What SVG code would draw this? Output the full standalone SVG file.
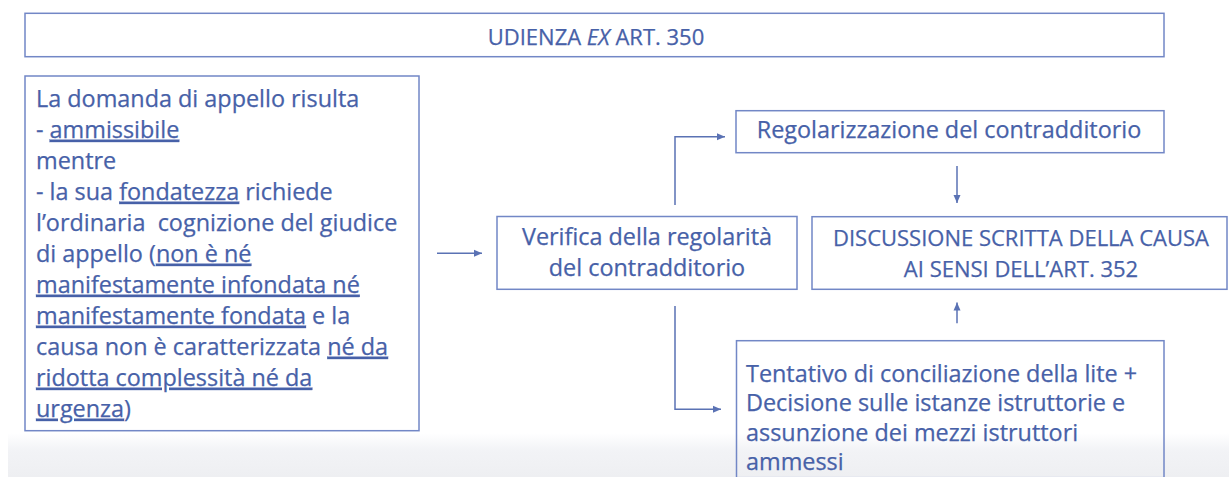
<svg xmlns="http://www.w3.org/2000/svg" width="1229" height="477" viewBox="0 0 1229 477">
<style>
  .box { fill: none; stroke: #7287c6; stroke-width: 1.5; }
  .t { font-family: "Open Sans", "Noto Sans", "Liberation Sans", sans-serif; font-size: 23.4px; fill: #4761a8; stroke: #4761a8; stroke-width: 0.25; }
  .caps { font-size: 22px; }
  .mid { text-anchor: middle; }
  .u { text-decoration: underline; }
  .conn { fill: none; stroke: #5a72b4; stroke-width: 1.5; }
</style>
<defs>
  <marker id="arr" markerUnits="userSpaceOnUse" markerWidth="9" markerHeight="8" refX="8" refY="4" orient="auto">
    <path d="M0,0.5 L8,4 L0,7.5 z" fill="#5a72b4"/>
  </marker>
  <linearGradient id="shade" x1="0" y1="0" x2="0" y2="1">
    <stop offset="0" stop-color="#ffffff"/>
    <stop offset="0.4" stop-color="#f2f3f6"/>
    <stop offset="1" stop-color="#eeeff2"/>
  </linearGradient>
</defs>
<rect x="0" y="0" width="1229" height="477" fill="#ffffff"/>
<rect x="8" y="433" width="1221" height="44" fill="url(#shade)"/>

<g id="title">
  <rect class="box" x="25" y="13.3" width="1139" height="43.4"/>
  <text class="t caps mid" x="596" y="45">UDIENZA <tspan font-style="italic">EX</tspan> ART. 350</text>
</g>

<g id="domanda">
  <rect class="box" x="25" y="76" width="394" height="354.7"/>
  <text class="t" x="36" y="106.7">La domanda di appello risulta</text>
  <text class="t" x="36" y="137.7">- <tspan class="u">ammissibile</tspan></text>
  <text class="t" x="36" y="168.7">mentre</text>
  <text class="t" x="36" y="199.7">- la sua <tspan class="u">fondatezza</tspan> richiede</text>
  <text class="t" x="36" y="230.7" xml:space="preserve">l’ordinaria  cognizione del giudice</text>
  <text class="t" x="36" y="261.7">di appello (<tspan class="u">non è né</tspan></text>
  <text class="t" x="36" y="292.7"><tspan class="u">manifestamente infondata né</tspan></text>
  <text class="t" x="36" y="323.7"><tspan class="u">manifestamente fondata</tspan> e la</text>
  <text class="t" x="36" y="354.7">causa non è caratterizzata <tspan class="u">né da</tspan></text>
  <text class="t" x="36" y="385.7"><tspan class="u">ridotta complessità né da</tspan></text>
  <text class="t" x="36" y="416.7"><tspan class="u">urgenza</tspan>)</text>
</g>

<g id="verifica">
  <rect class="box" x="497" y="216.5" width="300" height="72.8"/>
  <text class="t mid" x="647" y="245">Verifica della regolarità</text>
  <text class="t mid" x="647" y="276">del contradditorio</text>
</g>

<g id="regolarizzazione">
  <rect class="box" x="736" y="110.7" width="428" height="42"/>
  <text class="t mid" x="949" y="138.3">Regolarizzazione del contradditorio</text>
</g>

<g id="discussione">
  <rect class="box" x="812" y="216.7" width="415" height="72.6"/>
  <text class="t caps mid" x="1021" y="246">DISCUSSIONE SCRITTA DELLA CAUSA</text>
  <text class="t caps mid" x="1021" y="277.3">AI SENSI DELL’ART. 352</text>
</g>

<g id="tentativo">
  <rect class="box" x="736.5" y="340.7" width="427.5" height="137"/>
  <text class="t" x="746" y="381.5">Tentativo di conciliazione della lite +</text>
  <text class="t" x="746" y="411">Decisione sulle istanze istruttorie e</text>
  <text class="t" x="746" y="440.5">assunzione dei mezzi istruttori</text>
  <text class="t" x="746" y="470">ammessi</text>
</g>

<g id="connectors">
  <path class="conn" d="M437,253.3 H482" marker-end="url(#arr)"/>
  <path class="conn" d="M675,205 V136.7 H725" marker-end="url(#arr)"/>
  <path class="conn" d="M675,306 V409.3 H721" marker-end="url(#arr)"/>
  <path class="conn" d="M957,166 V203" marker-end="url(#arr)"/>
  <path class="conn" d="M957,323.3 V302.5" marker-end="url(#arr)"/>
</g>
</svg>
